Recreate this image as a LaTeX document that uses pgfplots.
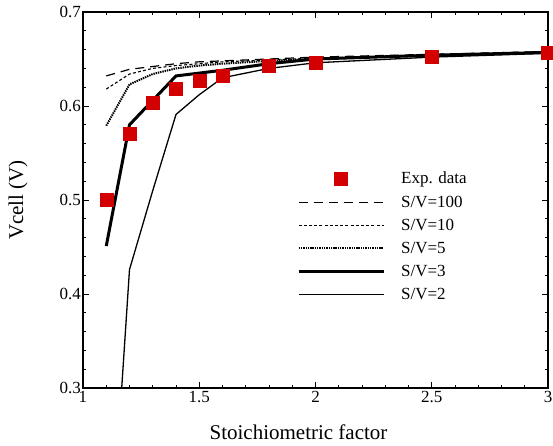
\documentclass[border=0pt]{standalone}
\usepackage{pgfplots}
\pgfplotsset{compat=1.18}
\usepackage{fontspec}
\setmainfont{Liberation Serif}
\definecolor{expred}{RGB}{210,0,0}
\pgfplotsset{
  longline legend/.style={legend image code/.code={\draw[##1] (0pt,0pt) -- (85pt,0pt);}},
  markmid legend/.style={legend image code/.code={\draw[mark repeat=2,mark phase=2,##1] plot coordinates {(0pt,0pt)(42.5pt,0pt)(85pt,0pt)};}},
}
\begin{document}
\begin{tikzpicture}
\useasboundingbox (-83pt,-58pt) rectangle (470pt,388pt);
\begin{axis}[
  at={(0pt,0pt)}, anchor=south west,
  scale only axis, width=465pt, height=376pt,
  xmin=1, xmax=3, ymin=0.3, ymax=0.7,
  xtick={1,1.5,2,2.5,3}, ytick={0.3,0.4,0.5,0.6,0.7},
  minor x tick num=4, minor y tick num=4,
  tick align=inside, major tick length=6pt, minor tick length=3pt,
  axis line style={line width=1.3pt}, every tick/.style={black, line width=0.9pt},
  /pgf/number format/assume math mode=true,
  yticklabel style={/pgf/number format/fixed,/pgf/number format/precision=1, /pgf/number format/fixed zerofill, xshift=0pt, inner sep=2pt},
  xticklabel style={/pgf/number format/fixed, yshift=-1pt, inner sep=2pt},
  ticklabel style={font=\fontsize{17}{20}\selectfont},
  label style={font=\fontsize{21}{24}\selectfont},
  xlabel={Stoichiometric factor}, ylabel={Vcell (V)},
  xlabel style={at={(rel axis cs:0.5,0)}, anchor=center, yshift=-44pt, xshift=-17pt},
  ylabel style={at={(rel axis cs:0,0.5)}, anchor=center, yshift=65pt},
  clip=true,
  legend style={at={(axis cs:1.933,0.7)}, anchor=north west, draw=none, fill=none,
    font=\fontsize{17}{20}\selectfont, row sep=6.3pt, column sep=14pt, yshift=-156pt, xshift=-6pt},
  legend cell align=left,
  longline legend,
]
\addplot[only marks, mark=square*, mark size=6.5pt, color=expred, markmid legend]
coordinates {(1.1,0.5)(1.2,0.57)(1.3,0.604)(1.4,0.618)(1.5,0.627)(1.6,0.632)(1.8,0.643)(2.0,0.646)(2.5,0.652)(3.0,0.657)};
\addlegendentry{Exp. data}
\addplot[black, line width=1.2pt, dash pattern=on 9pt off 6pt]
coordinates {(1.1,0.632)(1.2,0.639)(1.3,0.642)(1.4,0.645)(1.5,0.647)(1.6,0.648)(1.8,0.650)(2.0,0.652)(2.5,0.655)(3.0,0.658)};
\addlegendentry{S/V=100}
\addplot[black, line width=1.1pt, dash pattern=on 3pt off 2.2pt]
coordinates {(1.1,0.618)(1.2,0.634)(1.3,0.640)(1.4,0.643)(1.5,0.645)(1.6,0.647)(1.8,0.649)(2.0,0.651)(2.5,0.654)(3.0,0.657)};
\addlegendentry{S/V=10}
\addplot[black, line width=2pt, dash pattern=on 1.4pt off 0.9pt]
coordinates {(1.1,0.579)(1.2,0.623)(1.3,0.634)(1.4,0.640)(1.5,0.643)(1.6,0.645)(1.8,0.648)(2.0,0.650)(2.5,0.654)(3.0,0.657)};
\addlegendentry{S/V=5}
\addplot[black, line width=3pt]
coordinates {(1.1,0.451)(1.2,0.580)(1.3,0.606)(1.4,0.632)(1.5,0.635)(1.6,0.638)(1.8,0.645)(2.0,0.650)(2.5,0.654)(3.0,0.657)};
\addlegendentry{S/V=3}
\addplot[black, line width=1.3pt]
coordinates {(1.1,0.05)(1.2,0.426)(1.3,0.51)(1.4,0.591)(1.5,0.612)(1.6,0.630)(1.8,0.640)(2.0,0.646)(2.5,0.652)(3.0,0.656)};
\addlegendentry{S/V=2}
\end{axis}
\end{tikzpicture}
\end{document}
